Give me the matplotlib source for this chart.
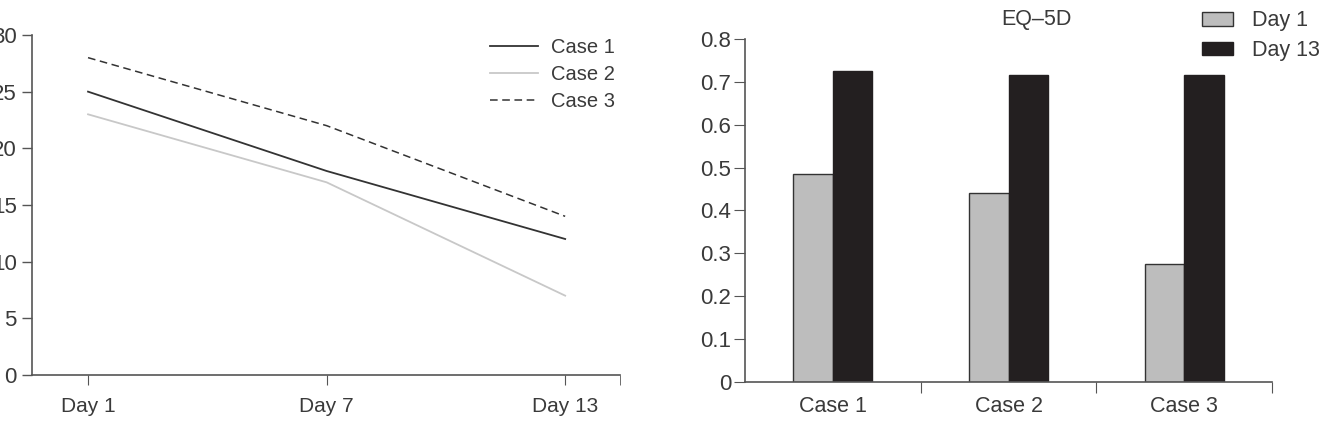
import matplotlib.pyplot as plt
import numpy as np

plt.rcParams['font.family'] = ['Liberation Sans', 'DejaVu Sans']

days = ['Day 1', 'Day 7', 'Day 13']
case1 = [25, 18, 12]
case2 = [23, 17, 7]
case3 = [28, 22, 14]

cases = ['Case 1', 'Case 2', 'Case 3']
eq_day1 = [0.485, 0.44, 0.275]
eq_day13 = [0.725, 0.716, 0.716]

axis_col = '#555555'
text_col = '#3a3a3a'

fig = plt.figure(figsize=(13.38, 4.22), dpi=100)

# left: line chart
ax1 = fig.add_axes([0.0239, 0.1114, 0.4395, 0.8057])
x = np.arange(len(days))
ax1.plot(x, case1, color='#333333', lw=1.3, label='Case 1')
ax1.plot(x, case2, color='#c8c8c8', lw=1.3, label='Case 2')
ax1.plot(x, case3, color='#333333', lw=1.1, ls=(0, (5, 3)), label='Case 3')
ax1.set_xlim(-0.235, 2.23)
ax1.set_ylim(0, 30)
ax1.set_yticks(range(0, 31, 5))
ax1.set_xticks(x, days)
ax1.set_xticks([2.23], minor=True)
ax1.tick_params(axis='y', direction='out', length=7, color=axis_col,
                labelcolor=text_col, labelsize=16, width=1, pad=4)
ax1.tick_params(axis='x', which='both', direction='out', length=7, color=axis_col,
                labelcolor=text_col, labelsize=15, pad=9)
for s in ['top', 'right']:
    ax1.spines[s].set_visible(False)
for s in ['left', 'bottom']:
    ax1.spines[s].set_color(axis_col)
    ax1.spines[s].set_linewidth(1.2)
leg1 = ax1.legend(loc='upper left', bbox_to_anchor=(0.748, 1.045), frameon=False,
                  fontsize=14.5, handlelength=2.4, handletextpad=0.65, labelspacing=0.4)
for t in leg1.get_texts():
    t.set_color(text_col)

# right: bar chart
ax2 = fig.add_axes([0.5568, 0.0948, 0.3939, 0.8128])
xb = np.arange(len(cases))
w = 0.225
ax2.bar(xb - w / 2, eq_day1, w, color='#bdbdbd', edgecolor='#333333', lw=1, label='Day 1')
ax2.bar(xb + w / 2, eq_day13, w, color='#231f20', edgecolor='#231f20', lw=1, label='Day 13')
ax2.set_xlim(-0.5, 2.5)
ax2.set_ylim(0, 0.8)
ax2.set_yticks(np.arange(0, 0.81, 0.1), ['0'] + [f'{v:.1f}' for v in np.arange(0.1, 0.81, 0.1)])
ax2.set_xticks([0.5, 1.5, 2.5], ['', '', ''])
ax2.set_xticks(xb, cases, minor=True)
ax2.tick_params(axis='y', direction='out', length=8, color=axis_col,
                labelcolor=text_col, labelsize=16, pad=2)
ax2.tick_params(axis='x', which='major', direction='out', length=8, color=axis_col)
ax2.tick_params(axis='x', which='minor', length=0, labelcolor=text_col, labelsize=15.5, pad=10)
for s in ['top', 'right']:
    ax2.spines[s].set_visible(False)
for s in ['left', 'bottom']:
    ax2.spines[s].set_color(axis_col)
    ax2.spines[s].set_linewidth(1.2)
ax2.text(1.16, 0.846, 'EQ\u20135D', ha='center', va='center', fontsize=15.5,
         color=text_col, clip_on=False)
leg2 = ax2.legend(loc='upper left', bbox_to_anchor=(0.83, 1.14), frameon=False,
                  fontsize=15.5, handlelength=1.45, handleheight=0.6,
                  handletextpad=0.9, labelspacing=0.4)
for t in leg2.get_texts():
    t.set_color(text_col)

fig.savefig('out.png', dpi=100)
